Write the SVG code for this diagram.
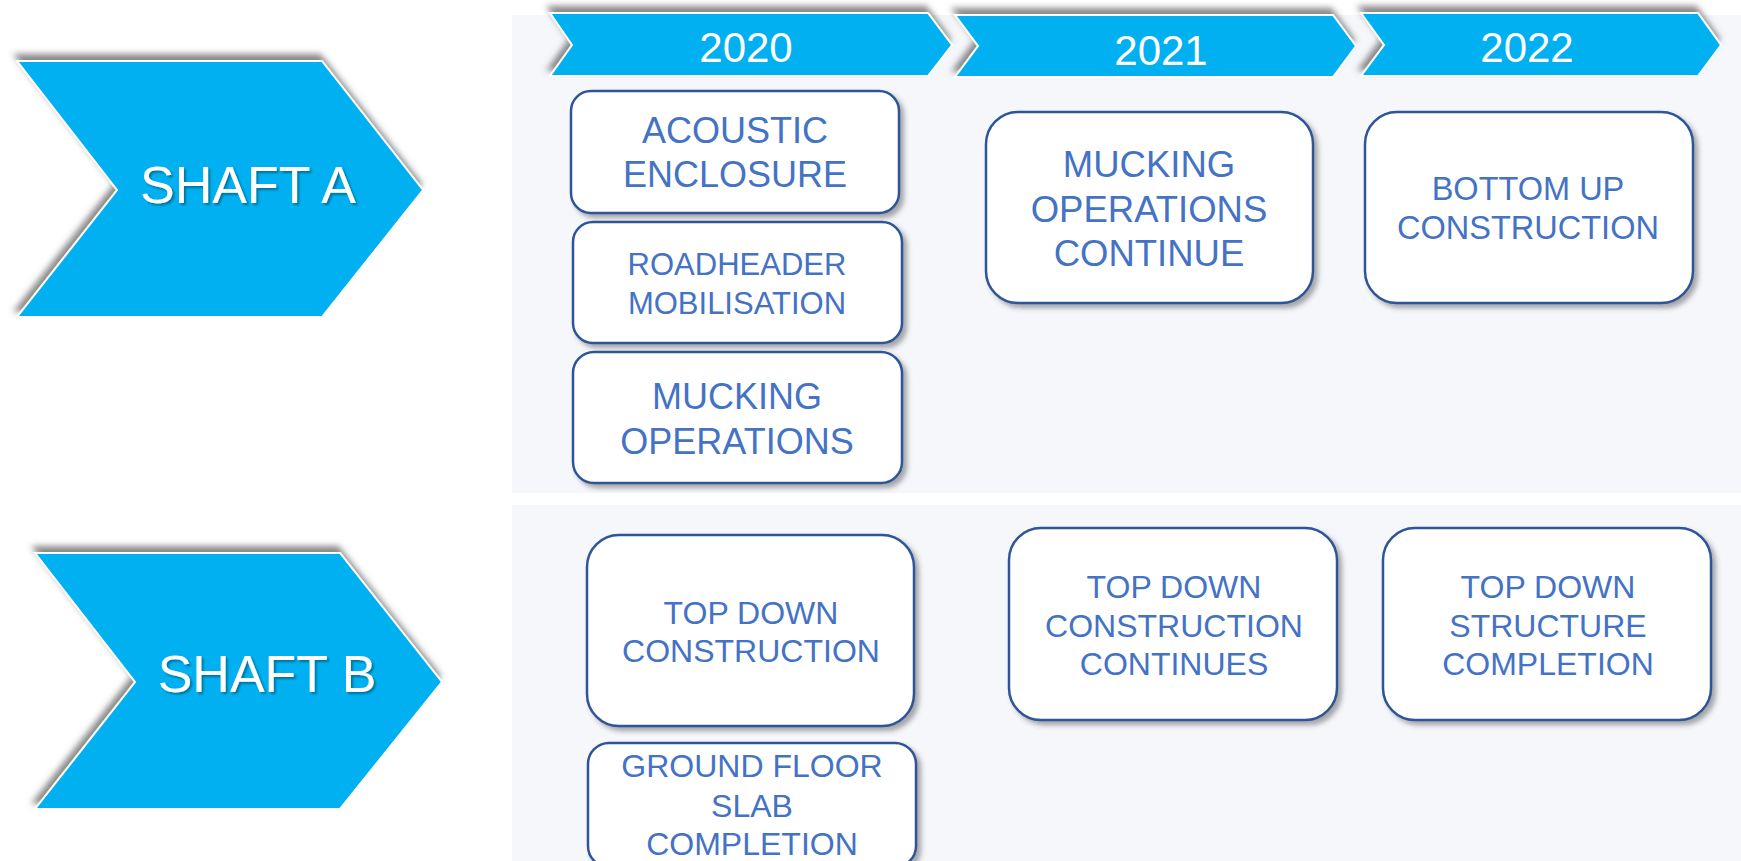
<svg xmlns="http://www.w3.org/2000/svg" width="1741" height="861" viewBox="0 0 1741 861">
<defs>
<filter id="chevSh" x="-10%" y="-20%" width="120%" height="140%">
<feGaussianBlur in="SourceAlpha" stdDeviation="3"/>
<feOffset dx="-2" dy="-6" result="b"/>
<feFlood flood-color="#555" flood-opacity="0.7"/>
<feComposite in2="b" operator="in"/>
<feMerge><feMergeNode/><feMergeNode in="SourceGraphic"/></feMerge>
</filter>
<filter id="boxSh" x="-10%" y="-10%" width="125%" height="130%">
<feGaussianBlur in="SourceAlpha" stdDeviation="2.5"/>
<feOffset dx="4" dy="4" result="b"/>
<feFlood flood-color="#444" flood-opacity="0.45"/>
<feComposite in2="b" operator="in"/>
<feMerge><feMergeNode/><feMergeNode in="SourceGraphic"/></feMerge>
</filter>
<filter id="txtSh" x="-10%" y="-20%" width="120%" height="150%">
<feGaussianBlur in="SourceAlpha" stdDeviation="1"/>
<feOffset dx="1.5" dy="1.5" result="b"/>
<feFlood flood-color="#000" flood-opacity="0.35"/>
<feComposite in2="b" operator="in"/>
<feMerge><feMergeNode/><feMergeNode in="SourceGraphic"/></feMerge>
</filter>
</defs>
<style>
.chev{fill:#00B0F0;stroke:#FFFFFF;stroke-width:2;stroke-linejoin:miter}
.wt{fill:#FFFFFF;font-family:"Liberation Sans",Arial,sans-serif;text-anchor:middle}
.box{fill:#FFFFFF;stroke:#2F5597;stroke-width:2.5}
.bt{fill:#4472C4;font-family:"Liberation Sans",Arial,sans-serif;text-anchor:middle}
.panel{fill:#F5F7FB}
</style>
<rect width="1741" height="861" fill="#FFFFFF"/>
<rect class="panel" x="512" y="15" width="1229" height="478"/>
<rect class="panel" x="512" y="505" width="1229" height="356"/>

<g id="shaftA">
<polygon class="chev" filter="url(#chevSh)" points="17,61 322,61 423,190 322,317 17,317 117,190"/>
<text class="wt" filter="url(#txtSh)" x="248" y="203" font-size="52">SHAFT A</text>
</g>
<g id="shaftB">
<polygon class="chev" filter="url(#chevSh)" points="35,553 340,553 442,682 340,809 35,809 135,682"/>
<text class="wt" filter="url(#txtSh)" x="267" y="692" font-size="52">SHAFT B</text>
</g>

<g id="y2020">
<polygon class="chev" filter="url(#chevSh)" points="550,13 928,13 952,45 928,76 550,76 572,45"/>
<text class="wt" x="746" y="62" font-size="42">2020</text>
</g>
<g id="y2021">
<polygon class="chev" filter="url(#chevSh)" points="955,15 1333,15 1356,46 1333,77 955,77 978,46"/>
<text class="wt" x="1161" y="65" font-size="42">2021</text>
</g>
<g id="y2022">
<polygon class="chev" filter="url(#chevSh)" points="1361,13 1698,13 1721,45 1698,76 1361,76 1384,45"/>
<text class="wt" x="1527" y="62" font-size="42">2022</text>
</g>

<g id="acoustic">
<rect class="box" filter="url(#boxSh)" x="571" y="91" width="328" height="122" rx="20"/>
<text class="bt" font-size="36"><tspan x="735" y="143">ACOUSTIC</tspan><tspan x="735" y="187">ENCLOSURE</tspan></text>
</g>
<g id="roadheader">
<rect class="box" filter="url(#boxSh)" x="573" y="222" width="329" height="121" rx="20"/>
<text class="bt" font-size="31"><tspan x="737" y="275">ROADHEADER</tspan><tspan x="737" y="314">MOBILISATION</tspan></text>
</g>
<g id="mucking">
<rect class="box" filter="url(#boxSh)" x="573" y="352" width="329" height="131" rx="21"/>
<text class="bt" font-size="36"><tspan x="737" y="409">MUCKING</tspan><tspan x="737" y="454">OPERATIONS</tspan></text>
</g>
<g id="muckingContinue">
<rect class="box" filter="url(#boxSh)" x="986" y="112" width="327" height="191" rx="32"/>
<text class="bt" font-size="36.5"><tspan x="1149" y="177">MUCKING</tspan><tspan x="1149" y="222">OPERATIONS</tspan><tspan x="1149" y="266">CONTINUE</tspan></text>
</g>
<g id="bottomUp">
<rect class="box" filter="url(#boxSh)" x="1365" y="112" width="328" height="191" rx="32"/>
<text class="bt" font-size="32.5"><tspan x="1528" y="200">BOTTOM UP</tspan><tspan x="1528" y="239">CONSTRUCTION</tspan></text>
</g>

<g id="topDown2020">
<rect class="box" filter="url(#boxSh)" x="587" y="535" width="327" height="191" rx="32"/>
<text class="bt" font-size="32"><tspan x="751" y="624">TOP DOWN</tspan><tspan x="751" y="662">CONSTRUCTION</tspan></text>
</g>
<g id="groundFloor">
<rect class="box" filter="url(#boxSh)" x="588" y="743" width="328" height="124" rx="21"/>
<text class="bt" font-size="32"><tspan x="752" y="777">GROUND FLOOR</tspan><tspan x="752" y="817">SLAB</tspan><tspan x="752" y="855">COMPLETION</tspan></text>
</g>
<g id="topDown2021">
<rect class="box" filter="url(#boxSh)" x="1009" y="528" width="328" height="192" rx="32"/>
<text class="bt" font-size="32"><tspan x="1174" y="598">TOP DOWN</tspan><tspan x="1174" y="637">CONSTRUCTION</tspan><tspan x="1174" y="675">CONTINUES</tspan></text>
</g>
<g id="topDown2022">
<rect class="box" filter="url(#boxSh)" x="1383" y="528" width="328" height="192" rx="32"/>
<text class="bt" font-size="32"><tspan x="1548" y="598">TOP DOWN</tspan><tspan x="1548" y="637">STRUCTURE</tspan><tspan x="1548" y="675">COMPLETION</tspan></text>
</g>
<g id="connectors"/>
</svg>
